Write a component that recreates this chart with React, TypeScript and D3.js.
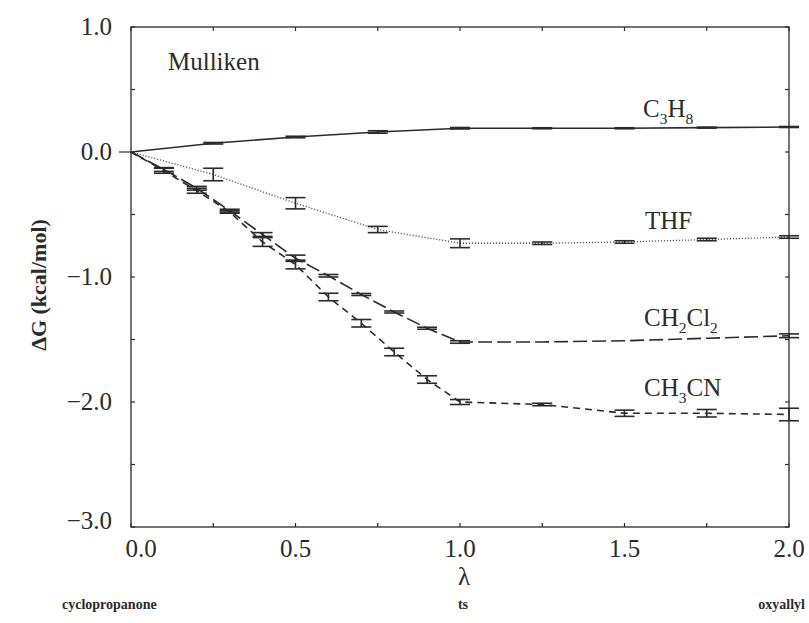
import React from "react";
import * as d3 from "d3";

const lambdaCoarse = [0, 0.25, 0.5, 0.75, 1.0, 1.25, 1.5, 1.75, 2.0];
const lambdaFine = [0, 0.1, 0.2, 0.3, 0.4, 0.5, 0.6, 0.7, 0.8, 0.9, 1.0, 1.25, 1.5, 1.75, 2.0];

const c3h8Values = [0, 0.07, 0.12, 0.16, 0.19, 0.19, 0.19, 0.195, 0.2];
const c3h8Errors = [0, 0.006, 0.006, 0.01, 0.006, 0.004, 0.004, 0.004, 0.004];

const thfValues = [0, -0.18, -0.41, -0.62, -0.73, -0.73, -0.72, -0.7, -0.68];
const thfErrors = [0, 0.05, 0.045, 0.025, 0.035, 0.01, 0.01, 0.01, 0.01];

const ch2cl2Values = [0, -0.14, -0.29, -0.47, -0.66, -0.85, -0.99, -1.14, -1.28, -1.41, -1.52, -1.52, -1.51, -1.49, -1.47];
const ch2cl2Errors = [0, 0.015, 0.015, 0.012, 0.015, 0.025, 0.01, 0.008, 0.008, 0.008, 0.01, 0, 0, 0, 0.015];

const ch3cnValues = [0, -0.15, -0.31, -0.48, -0.72, -0.9, -1.16, -1.37, -1.6, -1.82, -2.0, -2.02, -2.09, -2.09, -2.1];
const ch3cnErrors = [0, 0.02, 0.02, 0.01, 0.035, 0.035, 0.03, 0.03, 0.03, 0.03, 0.02, 0.01, 0.025, 0.03, 0.05];

const xTicks = [0, 0.5, 1.0, 1.5, 2.0];
const xMinorTicks = [0.25, 0.75, 1.25, 1.75];
const yTicks = [1.0, 0.0, -1.0, -2.0, -3.0];
const yMinorTicks = [0.5, -0.5, -1.5, -2.5];

const FONT = "'Liberation Serif', 'DejaVu Serif', serif";
const INK = "#2b2b2b";

const left = 131, right = 789, top = 27, bottom = 527;
const x = d3.scaleLinear().domain([0, 2]).range([left, right]);
const y = d3.scaleLinear().domain([-3, 1]).range([bottom, top]);

type Series = {
  name: string;
  xs: number[];
  vs: number[];
  es: number[];
  dash: string;
  width: number;
  color: string;
};

const series: Series[] = [
  { name: "C3H8", xs: lambdaCoarse, vs: c3h8Values, es: c3h8Errors, dash: "", width: 1.6, color: INK },
  { name: "THF", xs: lambdaCoarse, vs: thfValues, es: thfErrors, dash: "1.2,1.8", width: 1.3, color: "#555" },
  { name: "CH2Cl2", xs: lambdaFine, vs: ch2cl2Values, es: ch2cl2Errors, dash: "14,5", width: 1.6, color: INK },
  { name: "CH3CN", xs: lambdaFine, vs: ch3cnValues, es: ch3cnErrors, dash: "7,5", width: 1.6, color: INK },
];

const line = d3
  .line<[number, number]>()
  .x((d) => x(d[0]))
  .y((d) => y(d[1]));

const fmt = (v: number) => (v < 0 ? "\u2212" : "") + Math.abs(v).toFixed(1);

function Sub({ parts, xPos, yPos, size }: { parts: [string, boolean][]; xPos: number; yPos: number; size: number }) {
  const shift = size * 0.28;
  let state = false;
  return (
    <text x={xPos} y={yPos} fontFamily={FONT} fontSize={size} fill={INK}>
      {parts.map(([t, sub], i) => {
        let dy = 0;
        if (sub && !state) dy = shift;
        if (!sub && state) dy = -shift;
        state = sub;
        return (
          <tspan key={i} dy={dy} fontSize={sub ? size * 0.62 : size}>
            {t}
          </tspan>
        );
      })}
    </text>
  );
}

export default function App() {
  const capHalf = 10;
  return (
    <svg
      width={809}
      height={623}
      style={{ position: "absolute", left: 0, top: 0, background: "#fff" }}
    >
      <rect x={0} y={0} width={809} height={623} fill="#fff" />
      {/* frame */}
      <rect x={left} y={top} width={right - left} height={bottom - top} fill="none" stroke={INK} strokeWidth={1.3} />
      {/* x ticks */}
      {xTicks.concat(xMinorTicks).map((t, i) => (
        <g key={"xt" + i}>
          <line x1={x(t)} x2={x(t)} y1={bottom} y2={bottom - 4} stroke={INK} strokeWidth={1.2} />
          <line x1={x(t)} x2={x(t)} y1={top} y2={top + 4} stroke={INK} strokeWidth={1.2} />
        </g>
      ))}
      {xTicks.map((t, i) => (
        <text
          key={"xl" + i}
          x={x(t) + (t === 0 ? 10 : 0)}
          y={557}
          textAnchor="middle"
          fontFamily={FONT}
          fontSize={25}
          fill={INK}
        >
          {t.toFixed(1)}
        </text>
      ))}
      {/* y ticks */}
      {yTicks.concat(yMinorTicks).map((t, i) => (
        <g key={"yt" + i}>
          <line x1={left} x2={left + 4} y1={y(t)} y2={y(t)} stroke={INK} strokeWidth={1.2} />
          <line x1={right} x2={right - 4} y1={y(t)} y2={y(t)} stroke={INK} strokeWidth={1.2} />
        </g>
      ))}
      <line x1={left - 12} x2={left} y1={y(0)} y2={y(0)} stroke={INK} strokeWidth={1.2} />
      {yTicks.map((t, i) => (
        <text
          key={"yl" + i}
          x={112}
          y={y(t) + 8 - (t === -3 ? 6 : 0)}
          textAnchor="end"
          fontFamily={FONT}
          fontSize={25}
          fill={INK}
        >
          {fmt(t)}
        </text>
      ))}
      {/* axis titles */}
      <text
        transform={`translate(46,${(top + bottom) / 2 + 8}) rotate(-90)`}
        textAnchor="middle"
        fontFamily={FONT}
        fontSize={22}
        fontWeight="bold"
        fill={INK}
      >
        {"\u0394G (kcal/mol)"}
      </text>
      <text x={x(1) + 4} y={585} textAnchor="middle" fontFamily={FONT} fontSize={25} fill={INK}>
        {"\u03bb"}
      </text>
      <text x={62} y={609} textAnchor="start" fontFamily={FONT} fontSize={14} fontWeight="bold" fill={INK}>
        cyclopropanone
      </text>
      <text x={x(1) + 3} y={609} textAnchor="middle" fontFamily={FONT} fontSize={14} fontWeight="bold" fill={INK}>
        ts
      </text>
      <text x={805} y={609} textAnchor="end" fontFamily={FONT} fontSize={14} fontWeight="bold" fill={INK}>
        oxyallyl
      </text>
      <text x={168} y={70} fontFamily={FONT} fontSize={25} fill={INK}>
        Mulliken
      </text>
      {/* series lines */}
      {series.map((s) => (
        <path
          key={s.name}
          d={line(s.xs.map((l, i) => [l, s.vs[i]] as [number, number])) || ""}
          fill="none"
          stroke={s.color}
          strokeWidth={s.width}
          strokeDasharray={s.dash || undefined}
        />
      ))}
      {/* error bars */}
      {series.map((s) =>
        s.xs.map((l, i) => {
          if (l === 0 || s.es[i] === 0) return null;
          const cx = x(l);
          const y1 = y(s.vs[i] + s.es[i]);
          const y2 = y(s.vs[i] - s.es[i]);
          return (
            <g key={s.name + i} stroke={INK} strokeWidth={1.6}>
              <line x1={cx} x2={cx} y1={y1} y2={y2} />
              <line x1={cx - capHalf} x2={cx + capHalf} y1={y1} y2={y1} />
              <line x1={cx - capHalf} x2={cx + capHalf} y1={y2} y2={y2} />
            </g>
          );
        })
      )}
      {/* series labels */}
      <Sub parts={[["C", false], ["3", true], ["H", false], ["8", true]]} xPos={643} yPos={117} size={25} />
      <Sub parts={[["THF", false]]} xPos={645} yPos={229} size={25} />
      <Sub parts={[["CH", false], ["2", true], ["Cl", false], ["2", true]]} xPos={644} yPos={326} size={25} />
      <Sub parts={[["CH", false], ["3", true], ["CN", false]]} xPos={644} yPos={396} size={25} />
    </svg>
  );
}
